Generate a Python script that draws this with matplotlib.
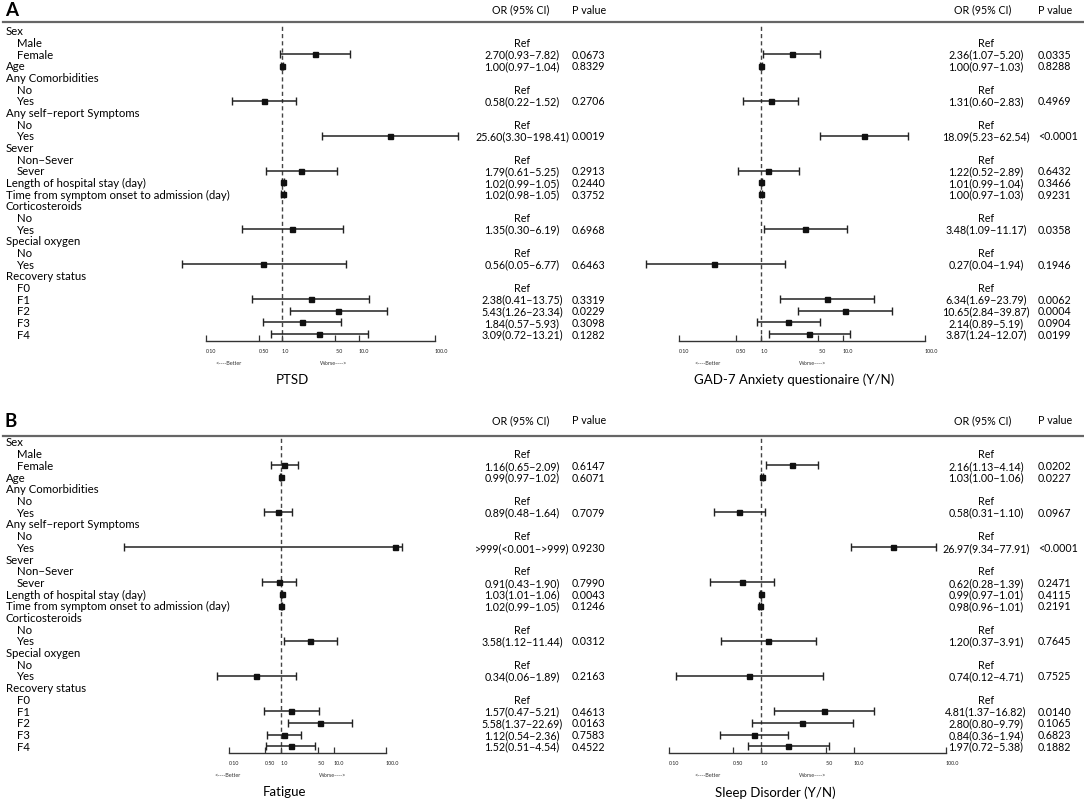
import matplotlib
matplotlib.use("Agg")
import matplotlib.pyplot as plt
from matplotlib import transforms
from matplotlib.ticker import NullLocator

W, H = 1084, 804
plt.rcParams['font.family'] = ['Lato', 'DejaVu Sans']

# row labels of the forest tables (same for all four outcomes)
row_labels = ["Sex", "Male", "Female", "Age", "Any Comorbidities", "No", "Yes",
              "Any self\u2212report Symptoms", "No", "Yes", "Sever", "Non\u2212Sever", "Sever",
              "Length of hospital stay (day)", "Time from symptom onset to admission (day)",
              "Corticosteroids", "No", "Yes", "Special oxygen", "No", "Yes",
              "Recovery status", "F0", "F1", "F2", "F3", "F4"]
group_rows = [0, 3, 4, 7, 10, 13, 14, 15, 18, 21]
ref_rows = [1, 5, 8, 11, 16, 19, 22]
value_rows = [2, 3, 6, 9, 12, 13, 14, 17, 20, 23, 24, 25, 26]

# PTSD
ptsd_or = [2.70, 1.00, 0.58, 25.60, 1.79, 1.02, 1.02, 1.35, 0.56, 2.38, 5.43, 1.84, 3.09]
ptsd_lo = [0.93, 0.97, 0.22, 3.30, 0.61, 0.99, 0.98, 0.30, 0.05, 0.41, 1.26, 0.57, 0.72]
ptsd_hi = [7.82, 1.04, 1.52, 198.41, 5.25, 1.05, 1.05, 6.19, 6.77, 13.75, 23.34, 5.93, 13.21]
ptsd_p = ["0.0673", "0.8329", "0.2706", "0.0019", "0.2913", "0.2440", "0.3752",
          "0.6968", "0.6463", "0.3319", "0.0229", "0.3098", "0.1282"]

# GAD-7
gad_or = [2.36, 1.00, 1.31, 18.09, 1.22, 1.01, 1.00, 3.48, 0.27, 6.34, 10.65, 2.14, 3.87]
gad_lo = [1.07, 0.97, 0.60, 5.23, 0.52, 0.99, 0.97, 1.09, 0.04, 1.69, 2.84, 0.89, 1.24]
gad_hi = [5.20, 1.03, 2.83, 62.54, 2.89, 1.04, 1.03, 11.17, 1.94, 23.79, 39.87, 5.19, 12.07]
gad_p = ["0.0335", "0.8288", "0.4969", "<0.0001", "0.6432", "0.3466", "0.9231",
         "0.0358", "0.1946", "0.0062", "0.0004", "0.0904", "0.0199"]

# Fatigue (self-report row is drawn)
fat_or = [1.16, 0.99, 0.89, 150, 0.91, 1.03, 1.02, 3.58, 0.34, 1.57, 5.58, 1.12, 1.52]
fat_lo = [0.65, 0.97, 0.48, 0.001, 0.43, 1.01, 0.99, 1.12, 0.06, 0.47, 1.37, 0.54, 0.51]
fat_hi = [2.09, 1.02, 1.64, 200, 1.90, 1.06, 1.05, 11.44, 1.89, 5.21, 22.69, 2.36, 4.54]
fat_p = ["0.6147", "0.6071", "0.7079", "0.9230", "0.7990", "0.0043", "0.1246",
         "0.0312", "0.2163", "0.4613", "0.0163", "0.7583", "0.4522"]
fat_text = {3: ">999(<0.001\u2212>999)"}

# Sleep disorder
slp_or = [2.16, 1.03, 0.58, 26.97, 0.62, 0.99, 0.98, 1.20, 0.74, 4.81, 2.80, 0.84, 1.97]
slp_lo = [1.13, 1.00, 0.31, 9.34, 0.28, 0.97, 0.96, 0.37, 0.12, 1.37, 0.80, 0.36, 0.72]
slp_hi = [4.14, 1.06, 1.10, 77.91, 1.39, 1.01, 1.01, 3.91, 4.71, 16.82, 9.79, 1.94, 5.38]
slp_p = ["0.0202", "0.0227", "0.0967", "<0.0001", "0.2471", "0.4115", "0.2191",
         "0.7645", "0.7525", "0.0140", "0.1065", "0.6823", "0.1882"]

xticks = [0.1, 0.5, 1, 5, 10, 100]
xticklabels = ["0.10", "0.50", "1.0", "5.0", "10.0", "100.0"]

LAB_FS = 8.2
NUM_FS = 7.7

fig = plt.figure(figsize=(W / 100, H / 100), dpi=100)


def forest(L, R, T, B, c, d, row0, step, est, lo, hi, pvals, or_x, p_x, title, title_x,
           texts=None, labels=False):
    ax = fig.add_axes([L / W, 1 - B / H, (R - L) / W, (B - T) / H])
    ax.set_xscale('log')
    ax.set_xlim(10 ** ((L - c) / d), 10 ** ((R - c) / d))
    ax.set_ylim((B - row0) / step, (T - row0) / step)
    ax.patch.set_alpha(0)
    for s in ['top', 'left', 'right']:
        ax.spines[s].set_visible(False)
    ax.spines['bottom'].set_bounds(0.1, 100)
    ax.spines['bottom'].set_color('#333')
    ax.spines['bottom'].set_linewidth(1.0)
    ax.set_xticks(xticks)
    ax.set_xticklabels(xticklabels)
    ax.xaxis.set_minor_locator(NullLocator())
    ax.tick_params(axis='x', direction='in', length=4, width=0.9, color='#333',
                   labelsize=3.8, pad=5, labelcolor='#222')
    for t in ax.get_xticklabels():
        t.set_ha('left')
    ax.set_yticks([])

    ax.axvline(1, ymin=0, ymax=0.995, color='#444', lw=1.0, ls=(0, (3, 2.2)))

    lo_err = [e - l for e, l in zip(est, lo)]
    hi_err = [h - e for e, h in zip(est, hi)]
    ax.errorbar(est, value_rows, xerr=[lo_err, hi_err], fmt='s', ms=3.6, color='#111',
                ecolor='#222', elinewidth=1.1, capsize=2.6, capthick=1.0)

    tr = transforms.blended_transform_factory(fig.transFigure, ax.transData)
    if labels:
        for i, lab in enumerate(row_labels):
            x = 6 if i in group_rows else 17
            ax.text(x / W, i, lab, transform=tr, fontsize=LAB_FS, va='center', ha='left',
                    color='#000')
    for i in ref_rows:
        ax.text(or_x / W, i, "Ref", transform=tr, fontsize=NUM_FS, va='center', ha='center',
                color='#000')
    for k, i in enumerate(value_rows):
        if texts and k in texts:
            s = texts[k]
        else:
            s = "%.2f(%.2f\u2212%.2f)" % (est[k], lo[k], hi[k])
        ax.text(or_x / W, i, s, transform=tr, fontsize=NUM_FS, va='center', ha='center',
                color='#000')
        ax.text(p_x / W, i, pvals[k], transform=tr, fontsize=NUM_FS, va='center', ha='left',
                color='#000')

    base = transforms.blended_transform_factory(ax.transData, ax.transAxes)
    tb = transforms.offset_copy(base, fig=fig, x=-53, y=-21.5, units='dots')
    tw = transforms.offset_copy(base, fig=fig, x=52, y=-21.5, units='dots')
    ax.text(1, 0, "<----Better", transform=tb, fontsize=4.0, ha='center', va='center',
            color='#333')
    ax.text(1, 0, "Worse---->", transform=tw, fontsize=4.0, ha='center', va='center',
            color='#333')
    fig.text(title_x / W, 1 - (B + 38.5) / H, title, fontsize=9.5, ha='center',
             va='center', color='#000')
    return ax


# panel A
forest(150, 470, 23, 341.7, 282, 76.5, 31.7, 11.67, ptsd_or, ptsd_lo, ptsd_hi, ptsd_p,
       522, 572, "PTSD", 292, labels=True)
forest(630, 940, 23, 341.7, 761, 82, 31.7, 11.67, gad_or, gad_lo, gad_hi, gad_p,
       986, 1038, "GAD-7 Anxiety questionaire (Y/N)", 794)
# panel B
forest(110, 420, 437, 754, 281, 52.5, 443, 11.7, fat_or, fat_lo, fat_hi, fat_p,
       522, 572, "Fatigue", 284, texts=fat_text, labels=True)
forest(650, 960, 437, 754, 761, 92.5, 443, 11.7, slp_or, slp_lo, slp_hi, slp_p,
       986, 1038, "Sleep Disorder (Y/N)", 775)

# headers
for top, letter in [(0, "A"), (411, "B")]:
    fig.text(5 / W, 1 - (top + 11) / H, letter, fontsize=13.5, fontweight='bold',
             ha='left', va='center', color='#000')
    for ox, px in [(521, 572), (983, 1038)]:
        fig.text(ox / W, 1 - (top + 10) / H, "OR (95% CI)", fontsize=NUM_FS, ha='center',
                 va='center', color='#000')
        fig.text(px / W, 1 - (top + 10) / H, "P value", fontsize=NUM_FS, ha='left',
                 va='center', color='#000')
    yl = 1 - (top + 23 + (3 if top else 0)) / H
    fig.add_artist(plt.Line2D([3 / W, 1.0], [yl, yl], color='#666', lw=1.6))

fig.savefig("out.png", dpi=100)
